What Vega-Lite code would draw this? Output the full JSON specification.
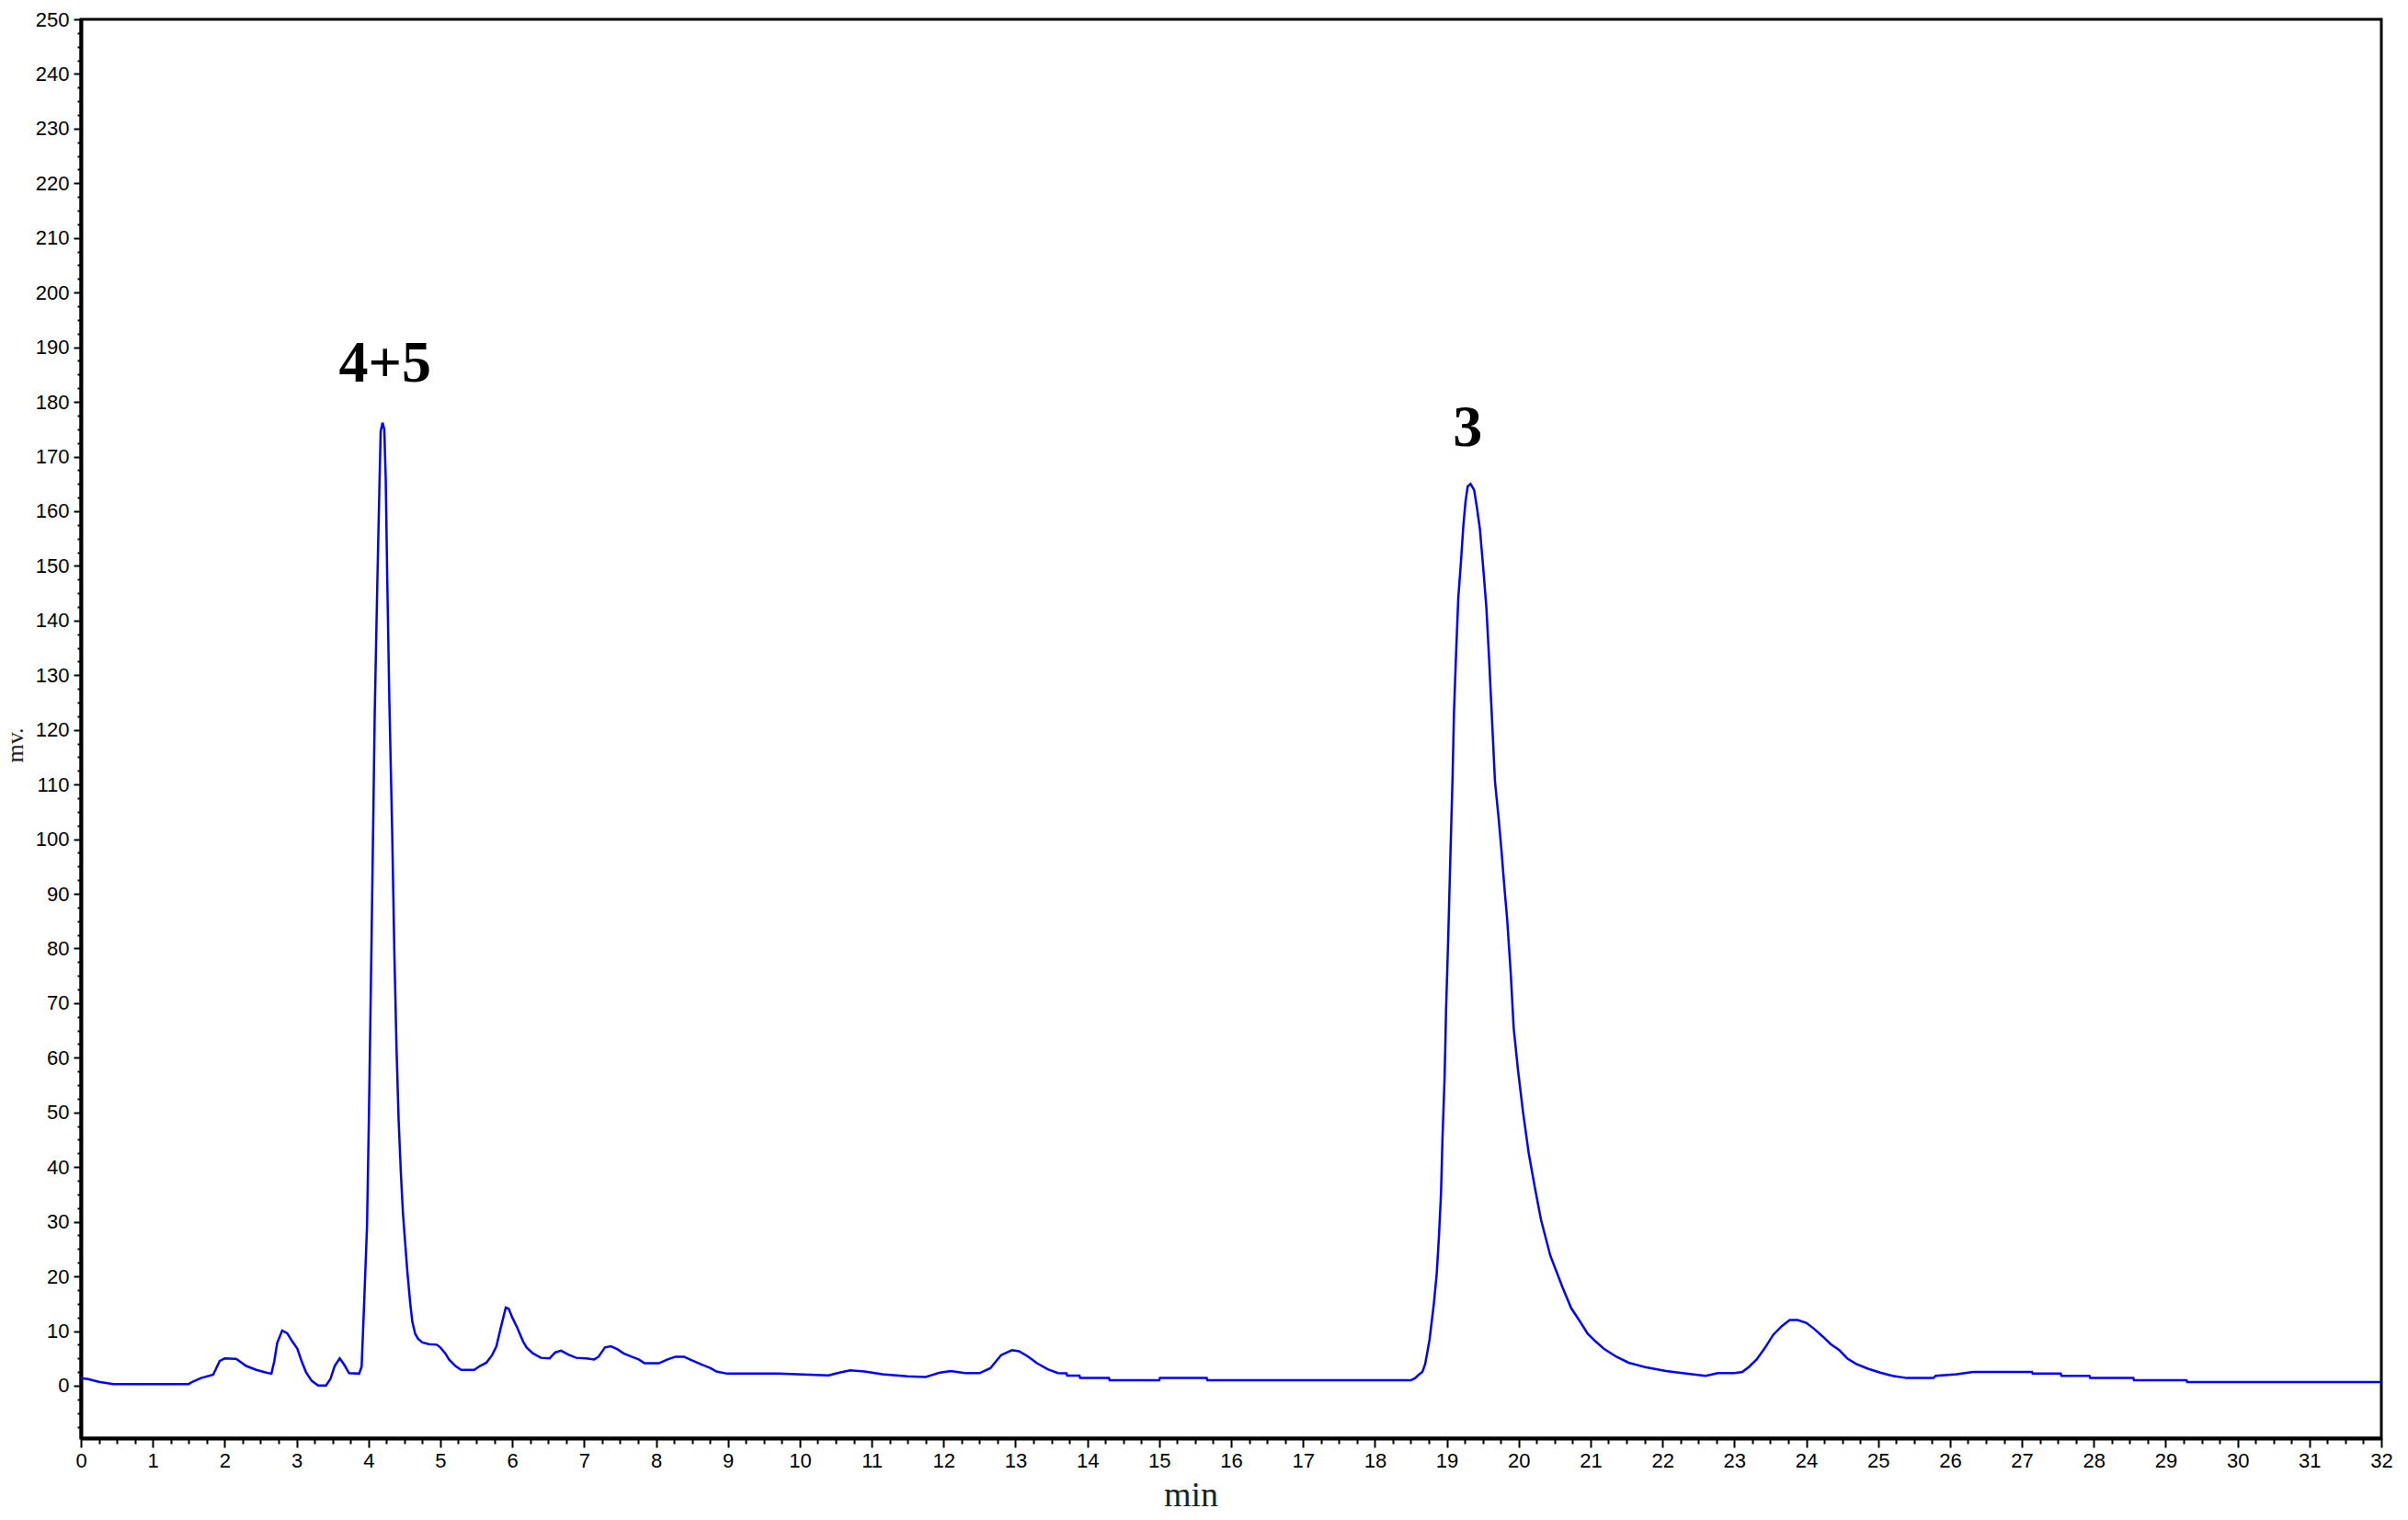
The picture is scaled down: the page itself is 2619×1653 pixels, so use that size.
{
  "$schema": "https://vega.github.io/schema/vega-lite/v6.json",
  "width": 2502,
  "height": 1543,
  "autosize": {"type": "none"},
  "padding": {"left": 88, "top": 21, "right": 29, "bottom": 89},
  "background": "white",
  "config": {
    "view": {"stroke": "black", "strokeWidth": 3},
    "axis": {
      "grid": false,
      "domainColor": "black",
      "domainWidth": 4,
      "tickColor": "black",
      "tickWidth": 2,
      "labelColor": "black",
      "labelFont": "Liberation Sans",
      "labelFontSize": 22,
      "labelFlush": false,
      "labelOverlap": false
    }
  },
  "datasets": {
    "trace": [
      {"t": 0, "v": 1.4}, {"t": 0.1, "v": 1.2}, {"t": 0.25, "v": 0.7}, {"t": 0.45, "v": 0.3},
      {"t": 1.5, "v": 0.3}, {"t": 1.55, "v": 0.7}, {"t": 1.67, "v": 1.4}, {"t": 1.84, "v": 2.0},
      {"t": 1.93, "v": 4.5}, {"t": 2.0, "v": 5.0}, {"t": 2.16, "v": 4.9}, {"t": 2.3, "v": 3.6},
      {"t": 2.44, "v": 2.9}, {"t": 2.58, "v": 2.4}, {"t": 2.65, "v": 2.2}, {"t": 2.69, "v": 4.5},
      {"t": 2.73, "v": 7.8}, {"t": 2.8, "v": 10.1}, {"t": 2.87, "v": 9.6}, {"t": 2.94, "v": 8.1},
      {"t": 3.01, "v": 6.8}, {"t": 3.07, "v": 4.5}, {"t": 3.13, "v": 2.5}, {"t": 3.21, "v": 0.9},
      {"t": 3.3, "v": 0.05}, {"t": 3.41, "v": 0.05}, {"t": 3.47, "v": 1.2}, {"t": 3.53, "v": 3.6},
      {"t": 3.6, "v": 5.0}, {"t": 3.66, "v": 3.9}, {"t": 3.73, "v": 2.3}, {"t": 3.87, "v": 2.2},
      {"t": 3.905, "v": 3.5}, {"t": 3.94, "v": 15.2}, {"t": 3.98, "v": 29.2}, {"t": 4.005, "v": 48.4},
      {"t": 4.03, "v": 69.9}, {"t": 4.06, "v": 97.3}, {"t": 4.087, "v": 123}, {"t": 4.12, "v": 144.9},
      {"t": 4.15, "v": 163.2}, {"t": 4.17, "v": 174.6}, {"t": 4.195, "v": 176.2}, {"t": 4.22, "v": 175},
      {"t": 4.24, "v": 166}, {"t": 4.26, "v": 148.6}, {"t": 4.29, "v": 125.6}, {"t": 4.33, "v": 101.2},
      {"t": 4.36, "v": 79.3}, {"t": 4.39, "v": 61.8}, {"t": 4.42, "v": 48.4}, {"t": 4.45, "v": 39.1},
      {"t": 4.48, "v": 31.5}, {"t": 4.51, "v": 26.2}, {"t": 4.54, "v": 21}, {"t": 4.58, "v": 15.2},
      {"t": 4.61, "v": 11.7}, {"t": 4.65, "v": 9.5}, {"t": 4.69, "v": 8.6}, {"t": 4.75, "v": 7.9},
      {"t": 4.84, "v": 7.6}, {"t": 4.95, "v": 7.5}, {"t": 5.0, "v": 7.0}, {"t": 5.07, "v": 5.9},
      {"t": 5.12, "v": 4.8}, {"t": 5.21, "v": 3.6}, {"t": 5.29, "v": 2.9}, {"t": 5.47, "v": 2.9},
      {"t": 5.55, "v": 3.6}, {"t": 5.64, "v": 4.2}, {"t": 5.72, "v": 5.6}, {"t": 5.78, "v": 7.2},
      {"t": 5.84, "v": 10.6}, {"t": 5.91, "v": 14.3}, {"t": 5.95, "v": 14.1}, {"t": 6.0, "v": 12.5},
      {"t": 6.07, "v": 10.6}, {"t": 6.15, "v": 8.1}, {"t": 6.2, "v": 7.0}, {"t": 6.29, "v": 5.9},
      {"t": 6.4, "v": 5.1}, {"t": 6.52, "v": 5.0}, {"t": 6.6, "v": 6.1}, {"t": 6.68, "v": 6.4},
      {"t": 6.78, "v": 5.7}, {"t": 6.89, "v": 5.1}, {"t": 7.03, "v": 5.0}, {"t": 7.14, "v": 4.8},
      {"t": 7.2, "v": 5.3}, {"t": 7.29, "v": 7.0}, {"t": 7.37, "v": 7.2}, {"t": 7.46, "v": 6.7},
      {"t": 7.55, "v": 5.9}, {"t": 7.66, "v": 5.3}, {"t": 7.76, "v": 4.8}, {"t": 7.84, "v": 4.1},
      {"t": 8.04, "v": 4.1}, {"t": 8.16, "v": 4.8}, {"t": 8.27, "v": 5.3}, {"t": 8.39, "v": 5.3},
      {"t": 8.47, "v": 4.8}, {"t": 8.61, "v": 4.0}, {"t": 8.76, "v": 3.2}, {"t": 8.84, "v": 2.6},
      {"t": 8.99, "v": 2.2}, {"t": 9.7, "v": 2.2}, {"t": 10.4, "v": 1.9}, {"t": 10.55, "v": 2.4},
      {"t": 10.7, "v": 2.8}, {"t": 10.9, "v": 2.6}, {"t": 11.15, "v": 2.1}, {"t": 11.5, "v": 1.7},
      {"t": 11.75, "v": 1.6}, {"t": 11.95, "v": 2.4}, {"t": 12.1, "v": 2.7}, {"t": 12.3, "v": 2.3},
      {"t": 12.5, "v": 2.3}, {"t": 12.65, "v": 3.2}, {"t": 12.8, "v": 5.6}, {"t": 12.95, "v": 6.5},
      {"t": 13.05, "v": 6.3}, {"t": 13.18, "v": 5.3}, {"t": 13.3, "v": 4.1}, {"t": 13.45, "v": 3.0},
      {"t": 13.59, "v": 2.3}, {"t": 13.71, "v": 2.25}, {"t": 13.72, "v": 1.85}, {"t": 13.89, "v": 1.85},
      {"t": 13.9, "v": 1.4}, {"t": 14.3, "v": 1.4}, {"t": 14.31, "v": 1.0}, {"t": 15.0, "v": 1.0},
      {"t": 15.01, "v": 1.4}, {"t": 15.66, "v": 1.4}, {"t": 15.67, "v": 1.0}, {"t": 18.5, "v": 1.0},
      {"t": 18.56, "v": 1.4}, {"t": 18.61, "v": 2.0}, {"t": 18.66, "v": 2.5}, {"t": 18.7, "v": 4.0},
      {"t": 18.76, "v": 8.4}, {"t": 18.82, "v": 15.0}, {"t": 18.86, "v": 20.5}, {"t": 18.89, "v": 27.1},
      {"t": 18.92, "v": 35.3}, {"t": 18.94, "v": 45.2}, {"t": 18.97, "v": 56.7}, {"t": 18.99, "v": 68.8},
      {"t": 19.02, "v": 82}, {"t": 19.05, "v": 96.9}, {"t": 19.08, "v": 111.1}, {"t": 19.1, "v": 123.2},
      {"t": 19.13, "v": 134.2}, {"t": 19.16, "v": 144.1}, {"t": 19.2, "v": 151.3}, {"t": 19.23, "v": 157.3},
      {"t": 19.26, "v": 161.7}, {"t": 19.29, "v": 164.5}, {"t": 19.33, "v": 165}, {"t": 19.38, "v": 163.9},
      {"t": 19.42, "v": 160.6}, {"t": 19.46, "v": 156.8}, {"t": 19.5, "v": 150.7}, {"t": 19.55, "v": 142.5},
      {"t": 19.59, "v": 132.6}, {"t": 19.63, "v": 121.6}, {"t": 19.67, "v": 110.6}, {"t": 19.72, "v": 104},
      {"t": 19.76, "v": 98}, {"t": 19.8, "v": 91.4}, {"t": 19.84, "v": 85.3}, {"t": 19.89, "v": 75.4},
      {"t": 19.93, "v": 65.5}, {"t": 19.99, "v": 57.8}, {"t": 20.06, "v": 50.1}, {"t": 20.14, "v": 42.5},
      {"t": 20.23, "v": 35.9}, {"t": 20.31, "v": 30.4}, {"t": 20.44, "v": 23.8}, {"t": 20.61, "v": 18},
      {"t": 20.73, "v": 14.2}, {"t": 20.85, "v": 11.8}, {"t": 20.96, "v": 9.5}, {"t": 21.07, "v": 8.1},
      {"t": 21.19, "v": 6.7}, {"t": 21.36, "v": 5.3}, {"t": 21.53, "v": 4.2}, {"t": 21.76, "v": 3.4},
      {"t": 22.05, "v": 2.7}, {"t": 22.28, "v": 2.3}, {"t": 22.6, "v": 1.8}, {"t": 22.77, "v": 2.3},
      {"t": 23.0, "v": 2.3}, {"t": 23.11, "v": 2.5}, {"t": 23.2, "v": 3.4}, {"t": 23.31, "v": 4.8},
      {"t": 23.43, "v": 7.0}, {"t": 23.54, "v": 9.3}, {"t": 23.66, "v": 10.9}, {"t": 23.77, "v": 12.0},
      {"t": 23.88, "v": 12.0}, {"t": 24.0, "v": 11.5}, {"t": 24.11, "v": 10.4}, {"t": 24.23, "v": 9.0},
      {"t": 24.34, "v": 7.6}, {"t": 24.46, "v": 6.5}, {"t": 24.57, "v": 5.0}, {"t": 24.69, "v": 4.0},
      {"t": 24.86, "v": 3.1}, {"t": 25.03, "v": 2.4}, {"t": 25.2, "v": 1.8}, {"t": 25.4, "v": 1.4},
      {"t": 25.77, "v": 1.4}, {"t": 25.8, "v": 1.8}, {"t": 26.09, "v": 2.1}, {"t": 26.32, "v": 2.5},
      {"t": 27.14, "v": 2.5}, {"t": 27.15, "v": 2.2}, {"t": 27.54, "v": 2.2}, {"t": 27.55, "v": 1.8},
      {"t": 27.94, "v": 1.8}, {"t": 27.95, "v": 1.4}, {"t": 28.55, "v": 1.4}, {"t": 28.56, "v": 1.0},
      {"t": 29.29, "v": 1.0}, {"t": 29.3, "v": 0.67}, {"t": 32, "v": 0.67}
    ],
    "peaks": [
      {"t": 4.23, "v": 183.7, "label": "4+5"},
      {"t": 19.29, "v": 171.9, "label": "3"}
    ]
  },
  "resolve": {"axis": {"x": "independent", "y": "independent"}},
  "layer": [
    {
      "data": {"name": "trace"},
      "mark": {"type": "line", "color": "#0000ff", "strokeWidth": 2.5, "interpolate": "linear", "clip": true},
      "encoding": {
        "x": {
          "field": "t", "type": "quantitative",
          "scale": {"domain": [0, 32], "nice": false, "zero": false},
          "axis": {
            "orient": "bottom",
            "values": [0,1,2,3,4,5,6,7,8,9,10,11,12,13,14,15,16,17,18,19,20,21,22,23,24,25,26,27,28,29,30,31,32],
            "tickSize": 10,
            "labelPadding": 4,
            "title": "min",
            "titleFont": "Liberation Serif",
            "titleFontSize": 38,
            "titleFontWeight": "normal",
            "titleColor": "#222222",
            "titleX": 1207,
            "titleY": 73,
            "titleBaseline": "alphabetic",
            "titleAnchor": "middle"
          }
        },
        "y": {
          "field": "v", "type": "quantitative",
          "scale": {"domain": [-9.6, 250], "nice": false, "zero": false},
          "axis": {
            "orient": "left",
            "values": [0,10,20,30,40,50,60,70,80,90,100,110,120,130,140,150,160,170,180,190,200,210,220,230,240,250],
            "tickSize": 8,
            "labelPadding": 5,
            "title": "mv.",
            "titleFont": "Liberation Serif",
            "titleFontSize": 26,
            "titleFontWeight": "normal",
            "titleColor": "#222222",
            "titleX": -72,
            "titleY": 789,
            "titleAngle": 270,
            "titleBaseline": "middle",
            "titleAlign": "center"
          }
        }
      }
    },
    {
      "data": {"name": "peaks"},
      "mark": {"type": "text", "font": "Liberation Serif", "fontWeight": "bold", "fontSize": 64, "color": "black", "baseline": "alphabetic", "align": "center"},
      "encoding": {
        "x": {
          "field": "t", "type": "quantitative",
          "axis": {
            "orient": "bottom",
            "values": [0.25,0.5,0.75,1.25,1.5,1.75,2.25,2.5,2.75,3.25,3.5,3.75,4.25,4.5,4.75,5.25,5.5,5.75,6.25,6.5,6.75,7.25,7.5,7.75,8.25,8.5,8.75,9.25,9.5,9.75,10.25,10.5,10.75,11.25,11.5,11.75,12.25,12.5,12.75,13.25,13.5,13.75,14.25,14.5,14.75,15.25,15.5,15.75,16.25,16.5,16.75,17.25,17.5,17.75,18.25,18.5,18.75,19.25,19.5,19.75,20.25,20.5,20.75,21.25,21.5,21.75,22.25,22.5,22.75,23.25,23.5,23.75,24.25,24.5,24.75,25.25,25.5,25.75,26.25,26.5,26.75,27.25,27.5,27.75,28.25,28.5,28.75,29.25,29.5,29.75,30.25,30.5,30.75,31.25,31.5,31.75],
            "labels": false,
            "domain": false,
            "tickSize": 6,
            "title": null
          }
        },
        "y": {
          "field": "v", "type": "quantitative",
          "axis": {
            "orient": "left",
            "values": [-7.5,-5,-2.5,2.5,5,7.5,12.5,15,17.5,22.5,25,27.5,32.5,35,37.5,42.5,45,47.5,52.5,55,57.5,62.5,65,67.5,72.5,75,77.5,82.5,85,87.5,92.5,95,97.5,102.5,105,107.5,112.5,115,117.5,122.5,125,127.5,132.5,135,137.5,142.5,145,147.5,152.5,155,157.5,162.5,165,167.5,172.5,175,177.5,182.5,185,187.5,192.5,195,197.5,202.5,205,207.5,212.5,215,217.5,222.5,225,227.5,232.5,235,237.5,242.5,245,247.5],
            "labels": false,
            "domain": false,
            "tickSize": 4,
            "title": null
          }
        },
        "text": {"field": "label", "type": "nominal"}
      }
    }
  ]
}
